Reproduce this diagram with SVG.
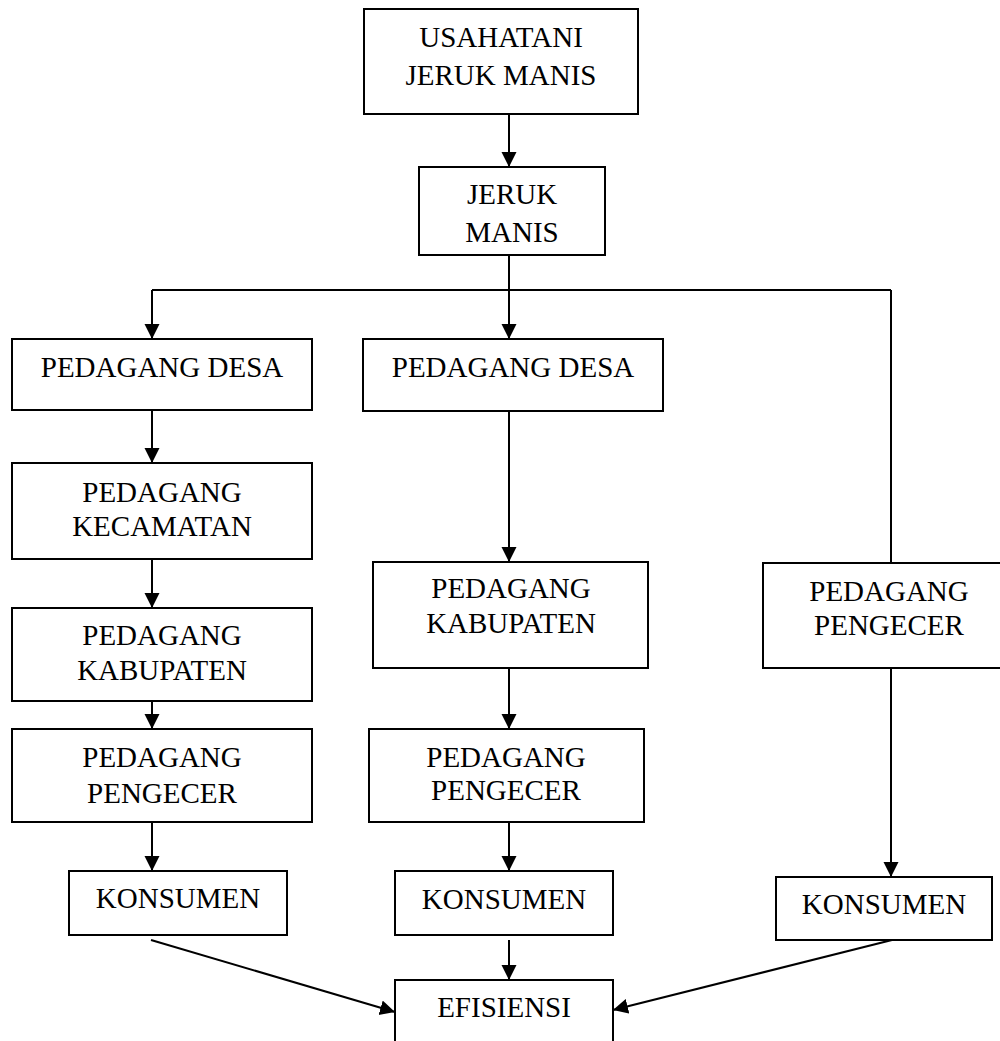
<svg xmlns="http://www.w3.org/2000/svg" width="1000" height="1041" viewBox="0 0 1000 1041">
<style>
rect{fill:#fff;stroke:#000;stroke-width:2}
text{font-family:"Liberation Serif","Times New Roman",serif;font-size:29px;fill:#000;text-anchor:middle}
.c{fill:none;stroke:#000;stroke-width:2}
</style>
<defs>
<marker id="ah" markerUnits="userSpaceOnUse" markerWidth="16" markerHeight="16" refX="15" refY="7.5" orient="auto">
<path d="M0,0 L15,7.5 L0,15 z" fill="#000"/>
</marker>
</defs>
<rect x="0" y="0" width="1000" height="1041" style="stroke:none"/>
<g id="connectors">
<line class="c" x1="509" y1="114" x2="509" y2="167" marker-end="url(#ah)"/>
<polyline class="c" points="509,255 509,290"/>
<polyline class="c" points="152,290 891,290"/>
<polyline class="c" points="152,290 152,339" marker-end="url(#ah)"/>
<polyline class="c" points="509,290 509,339" marker-end="url(#ah)"/>
<polyline class="c" points="891,290 891,563"/>
<line class="c" x1="152" y1="410" x2="152" y2="463" marker-end="url(#ah)"/>
<line class="c" x1="152" y1="559" x2="152" y2="608" marker-end="url(#ah)"/>
<line class="c" x1="152" y1="701" x2="152" y2="729" marker-end="url(#ah)"/>
<line class="c" x1="152" y1="822" x2="152" y2="871" marker-end="url(#ah)"/>
<line class="c" x1="509" y1="411" x2="509" y2="562" marker-end="url(#ah)"/>
<line class="c" x1="509" y1="668" x2="509" y2="729" marker-end="url(#ah)"/>
<line class="c" x1="509" y1="822" x2="509" y2="871" marker-end="url(#ah)"/>
<line class="c" x1="509" y1="940" x2="509" y2="980" marker-end="url(#ah)"/>
<line class="c" x1="891" y1="668" x2="891" y2="877" marker-end="url(#ah)"/>
<line class="c" x1="151" y1="940" x2="395" y2="1012" marker-end="url(#ah)"/>
<line class="c" x1="892" y1="940" x2="613" y2="1010" marker-end="url(#ah)"/>
</g>
<g id="usahatani"><rect x="364" y="9" width="274" height="105"/><text x="501" y="47">USAHATANI</text><text x="501" y="85">JERUK MANIS</text></g>
<g id="jeruk"><rect x="419" y="167" width="186" height="88"/><text x="512" y="204">JERUK</text><text x="512" y="242">MANIS</text></g>
<g id="desa1"><rect x="12" y="339" width="300" height="71"/><text x="162" y="377">PEDAGANG DESA</text></g>
<g id="kecamatan1"><rect x="12" y="463" width="300" height="96"/><text x="162" y="502">PEDAGANG</text><text x="162" y="536">KECAMATAN</text></g>
<g id="kabupaten1"><rect x="12" y="608" width="300" height="93"/><text x="162" y="645">PEDAGANG</text><text x="162" y="680">KABUPATEN</text></g>
<g id="pengecer1"><rect x="12" y="729" width="300" height="93"/><text x="162" y="767">PEDAGANG</text><text x="162" y="803">PENGECER</text></g>
<g id="konsumen1"><rect x="69" y="871" width="218" height="64"/><text x="178" y="908">KONSUMEN</text></g>
<g id="desa2"><rect x="363" y="339" width="300" height="72"/><text x="513" y="377">PEDAGANG DESA</text></g>
<g id="kabupaten2"><rect x="373" y="562" width="275" height="106"/><text x="511" y="598">PEDAGANG</text><text x="511" y="633">KABUPATEN</text></g>
<g id="pengecer2"><rect x="369" y="729" width="275" height="93"/><text x="506" y="767">PEDAGANG</text><text x="506" y="800">PENGECER</text></g>
<g id="konsumen2"><rect x="395" y="871" width="218" height="64"/><text x="504" y="909">KONSUMEN</text></g>
<g id="efisiensi"><rect x="395" y="980" width="218" height="70"/><text x="504" y="1017">EFISIENSI</text></g>
<g id="pengecer3"><rect x="763" y="563" width="256" height="105"/><text x="889" y="601">PEDAGANG</text><text x="889" y="635">PENGECER</text></g>
<g id="konsumen3"><rect x="776" y="877" width="216" height="63"/><text x="884" y="914">KONSUMEN</text></g>
</svg>
